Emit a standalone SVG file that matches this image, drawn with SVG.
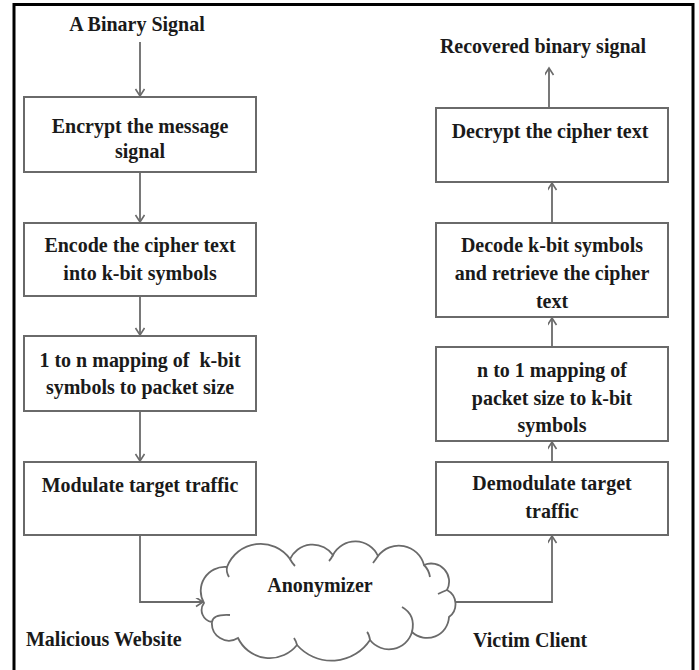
<svg xmlns="http://www.w3.org/2000/svg" width="699" height="670" viewBox="0 0 699 670">
<defs>
<style>
.box{fill:#fff;stroke:#6a6a6a;stroke-width:2}
.t{font-family:"Liberation Serif","Times New Roman",serif;font-weight:bold;font-size:20px;fill:#1a1a1a;text-anchor:middle}
.tl{font-family:"Liberation Serif","Times New Roman",serif;font-weight:bold;font-size:20px;fill:#1a1a1a}
.c{fill:none;stroke:#6a6a6a;stroke-width:1.8}
.cl{fill:#fff;stroke:#6a6a6a;stroke-width:1.8}
</style>
<marker id="ah" markerWidth="12" markerHeight="12" refX="8" refY="4.5" orient="auto" markerUnits="userSpaceOnUse">
<path d="M1,0 L8,4.5 L1,9" fill="none" stroke="#6a6a6a" stroke-width="1.6"/>
</marker>
</defs>
<rect x="0" y="0" width="699" height="670" fill="#fff"/>
<rect x="14" y="4.5" width="679" height="700" fill="none" stroke="#000" stroke-width="3"/>

<g id="connectors">
<line class="c" x1="140" y1="42" x2="140" y2="96" marker-end="url(#ah)"/>
<line class="c" x1="140" y1="172" x2="140" y2="222" marker-end="url(#ah)"/>
<line class="c" x1="140" y1="296" x2="140" y2="335" marker-end="url(#ah)"/>
<line class="c" x1="140" y1="411" x2="140" y2="461" marker-end="url(#ah)"/>
<path class="c" d="M140,535 L140,602 L203,602" marker-end="url(#ah)"/>
<path class="c" d="M454,602 L552,602 L552,536" marker-end="url(#ah)"/>
<line class="c" x1="552" y1="462" x2="552" y2="442" marker-end="url(#ah)"/>
<line class="c" x1="552" y1="347" x2="552" y2="318" marker-end="url(#ah)"/>
<line class="c" x1="552" y1="223" x2="552" y2="183" marker-end="url(#ah)"/>
<line class="c" x1="549" y1="108" x2="549" y2="68" marker-end="url(#ah)"/>
</g>

<g id="label-input"><text class="t" transform="translate(137,31) scale(1,1.1)">A Binary Signal</text></g>
<g id="label-output"><text class="t" transform="translate(543,53) scale(1,1.1)">Recovered binary signal</text></g>

<g id="encrypt">
<rect class="box" x="24" y="97" width="232" height="75"/>
<text class="t" transform="translate(140,133) scale(1,1.1)">Encrypt the message</text>
<text class="t" transform="translate(140,158) scale(1,1.1)">signal</text>
</g>
<g id="encode">
<rect class="box" x="24" y="223" width="232" height="73"/>
<text class="t" transform="translate(140,252) scale(1,1.1)">Encode the cipher text</text>
<text class="t" transform="translate(140,280) scale(1,1.1)">into k-bit symbols</text>
</g>
<g id="mapping1n">
<rect class="box" x="24" y="336" width="232" height="75"/>
<text class="t" xml:space="preserve" transform="translate(140,367) scale(1,1.1)">1 to n mapping of  k-bit</text>
<text class="t" transform="translate(140,394) scale(1,1.1)">symbols to packet size</text>
</g>
<g id="modulate">
<rect class="box" x="24" y="462" width="232" height="73"/>
<text class="t" transform="translate(140,492) scale(1,1.1)">Modulate target traffic</text>
</g>

<g id="decrypt">
<rect class="box" x="436" y="108" width="232" height="74"/>
<text class="t" transform="translate(550,138) scale(1,1.1)">Decrypt the cipher text</text>
</g>
<g id="decode">
<rect class="box" x="436" y="223" width="232" height="94"/>
<text class="t" transform="translate(552,252) scale(1,1.1)">Decode k-bit symbols</text>
<text class="t" transform="translate(552,280) scale(1,1.1)">and retrieve the cipher</text>
<text class="t" transform="translate(552,308) scale(1,1.1)">text</text>
</g>
<g id="mappingn1">
<rect class="box" x="436" y="347" width="232" height="94"/>
<text class="t" transform="translate(552,377) scale(1,1.1)">n to 1 mapping of</text>
<text class="t" transform="translate(552,405) scale(1,1.1)">packet size to k-bit</text>
<text class="t" transform="translate(552,432) scale(1,1.1)">symbols</text>
</g>
<g id="demodulate">
<rect class="box" x="436" y="462" width="232" height="73"/>
<text class="t" transform="translate(552,490) scale(1,1.1)">Demodulate target</text>
<text class="t" transform="translate(552,518) scale(1,1.1)">traffic</text>
</g>

<g id="anonymizer">
<path class="cl" d="M204,603 A24,24 0 0 1 227,567 A36,36 0 0 1 290,559 A25,25 0 0 1 333,555 A25,25 0 0 1 378,556 A26,26 0 0 1 424,565 A18,18 0 0 1 447,590 A16,16 0 0 1 449,617 A22,22 0 0 1 412,632 A24,24 0 0 1 370,640 A46,46 0 0 1 297,645 A35,35 0 0 1 238,638 A17,17 0 0 1 212,622 A12,12 0 0 1 204,603 Z"/>
<path class="c" d="M227,567 Q226,572 229,577"/>
<path class="c" d="M290,559 Q292,563 295,566"/>
<path class="c" d="M333,555 Q331,559 329,561"/>
<path class="c" d="M378,556 Q376,559 373,563"/>
<path class="c" d="M424,565 Q429,570 430,577"/>
<path class="c" d="M447,590 Q442,592 438,594"/>
<path class="c" d="M412,632 Q416,615 402,607"/>
<path class="c" d="M370,640 Q369,634 367,632"/>
<path class="c" d="M297,645 Q296,641 294,638"/>
<path class="c" d="M212,622 Q213,614 230,615"/>
<text class="t" transform="translate(320,592) scale(1,1.1)">Anonymizer</text>
</g>

<g id="label-malicious"><text class="tl" transform="translate(26,646) scale(1,1.1)">Malicious Website</text></g>
<g id="label-victim"><text class="tl" transform="translate(473,647) scale(1,1.1)">Victim Client</text></g>
</svg>
